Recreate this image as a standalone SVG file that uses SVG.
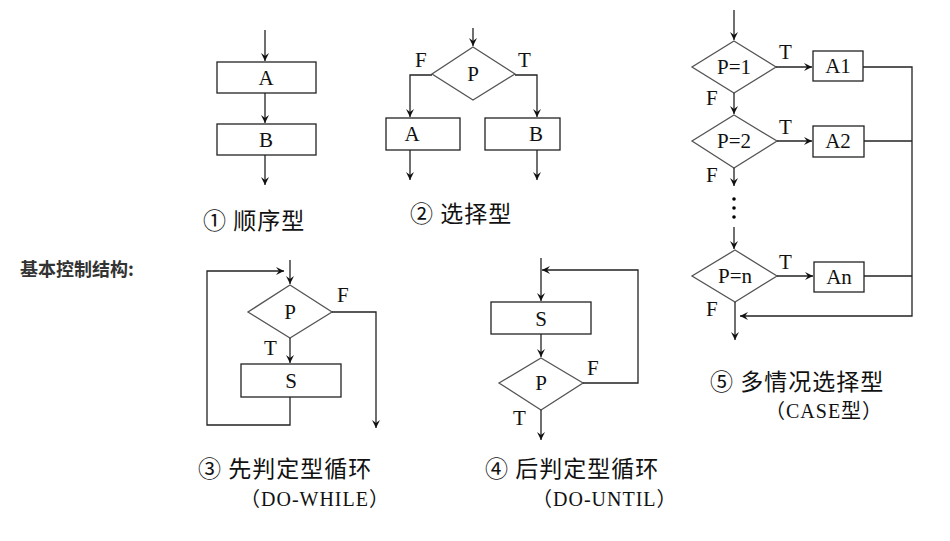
<svg xmlns="http://www.w3.org/2000/svg" width="950" height="541" viewBox="0 0 950 541">
<style>
.b{fill:#fff;stroke:#222;stroke-width:1.3}
.d{fill:#fff;stroke:#555;stroke-width:1.3}
.l{fill:none;stroke:#222;stroke-width:1.3}
.t{font-family:"Liberation Serif","DejaVu Serif",serif;font-size:21px;fill:#111}
.c{font-family:"Noto Sans CJK SC",sans-serif;font-size:23px;fill:#111;letter-spacing:1px}
.p{font-family:"Liberation Serif","DejaVu Serif","Noto Sans CJK SC",serif;font-size:20px;fill:#111;letter-spacing:1px}
.m{text-anchor:middle}
</style>
<defs><marker id="a" markerWidth="10" markerHeight="10" refX="8" refY="4" orient="auto" markerUnits="userSpaceOnUse"><path d="M0,0 L8,4 L0,8 L3,4 z" fill="#111"/></marker></defs>
<rect width="950" height="541" fill="#fff"/>
<text x="20" y="276" style="font-family:'Noto Sans CJK SC',sans-serif;font-size:18px;font-weight:bold;fill:#333">基本控制结构:</text>
<g id="seq"><rect class="b" x="217" y="62" width="99" height="31"/><text class="t m" x="266" y="85">A</text>
<rect class="b" x="217" y="124" width="99" height="31"/><text class="t m" x="266" y="147">B</text>
<text class="c" x="203" y="229">① 顺序型</text></g>
<g id="sel"><polygon class="d" points="473,47 515,74 473,100 432,74"/><text class="t m" x="473" y="81">P</text>
<rect class="b" x="386" y="118" width="74" height="32"/><text class="t m" x="412" y="141">A</text>
<rect class="b" x="485" y="118" width="75" height="32"/><text class="t m" x="536" y="141">B</text>
<text class="t" x="415" y="67">F</text><text class="t" x="518" y="67">T</text>
<text class="c" x="410" y="222">② 选择型</text></g>
<g id="while"><polygon class="d" points="290,285 332,312 290,338 248,312"/><text class="t m" x="290" y="319">P</text>
<rect class="b" x="241" y="364" width="100" height="33"/><text class="t m" x="291" y="388">S</text>
<text class="t" x="264" y="355">T</text><text class="t" x="337" y="302">F</text>
<text class="c" x="198" y="477">③ 先判定型循环</text><text class="p" x="240" y="506">（DO-WHILE）</text></g>
<g id="until"><rect class="b" x="491" y="302" width="100" height="32"/><text class="t m" x="541" y="326">S</text>
<polygon class="d" points="541,358 583,383 541,410 499,383"/><text class="t m" x="541" y="390">P</text>
<text class="t" x="513" y="425">T</text><text class="t" x="587" y="375">F</text>
<text class="c" x="485" y="477">④ 后判定型循环</text><text class="p" x="532" y="506">（DO-UNTIL）</text></g>
<g id="case"><polygon class="d" points="734,41 776,67 734,93 692,67"/><text class="t m" x="734" y="74">P=1</text>
<polygon class="d" points="734,115 777,141 734,168 692,141"/><text class="t m" x="734" y="148">P=2</text>
<polygon class="d" points="735,250 777,276 735,302 692,276"/><text class="t m" x="735" y="283">P=n</text>
<rect class="b" x="813" y="51" width="50" height="30"/><text class="t m" x="838" y="73">A1</text>
<rect class="b" x="813" y="126" width="51" height="31"/><text class="t m" x="838" y="148">A2</text>
<rect class="b" x="814" y="262" width="50" height="30"/><text class="t m" x="839" y="284">An</text>
<text class="t" x="779" y="59">T</text><text class="t" x="779" y="134">T</text><text class="t" x="779" y="269">T</text>
<text class="t" x="706" y="105">F</text><text class="t" x="706" y="182">F</text><text class="t" x="706" y="316">F</text>
<circle cx="734" cy="199" r="1.8"/><circle cx="734" cy="208" r="1.8"/><circle cx="734" cy="217" r="1.8"/>
<text class="c" x="710" y="390">⑤ 多情况选择型</text><text class="p" x="765" y="418">（CASE型）</text></g>
<g id="connectors">
<line class="l" x1="265" y1="30" x2="265" y2="61" marker-end="url(#a)"/>
<line class="l" x1="265" y1="93" x2="265" y2="123" marker-end="url(#a)"/>
<line class="l" x1="265" y1="155" x2="265" y2="185" marker-end="url(#a)"/>
<line class="l" x1="473" y1="28" x2="473" y2="46" marker-end="url(#a)"/>
<polyline class="l" points="432,75 410,75 410,117" marker-end="url(#a)"/>
<polyline class="l" points="515,75 537,75 537,117" marker-end="url(#a)"/>
<line class="l" x1="410" y1="150" x2="410" y2="180" marker-end="url(#a)"/>
<line class="l" x1="537" y1="150" x2="537" y2="180" marker-end="url(#a)"/>
<line class="l" x1="290" y1="260" x2="290" y2="284" marker-end="url(#a)"/>
<polyline class="l" points="290,397 290,425 207,425 207,271 284,271" marker-end="url(#a)"/>
<polyline class="l" points="332,312 376,312 376,428" marker-end="url(#a)"/>
<line class="l" x1="290" y1="338" x2="290" y2="363" marker-end="url(#a)"/>
<line class="l" x1="541" y1="258" x2="541" y2="301" marker-end="url(#a)"/>
<polyline class="l" points="583,383 638,383 638,270 542,270" marker-end="url(#a)"/>
<line class="l" x1="541" y1="334" x2="541" y2="357" marker-end="url(#a)"/>
<line class="l" x1="541" y1="410" x2="541" y2="440" marker-end="url(#a)"/>
<line class="l" x1="734" y1="10" x2="734" y2="40" marker-end="url(#a)"/>
<line class="l" x1="776" y1="67" x2="812" y2="67" marker-end="url(#a)"/>
<line class="l" x1="777" y1="141" x2="812" y2="141" marker-end="url(#a)"/>
<line class="l" x1="777" y1="276" x2="813" y2="276" marker-end="url(#a)"/>
<line class="l" x1="734" y1="93" x2="734" y2="114" marker-end="url(#a)"/>
<line class="l" x1="734" y1="168" x2="734" y2="186" marker-end="url(#a)"/>
<line class="l" x1="734" y1="227" x2="734" y2="249" marker-end="url(#a)"/>
<line class="l" x1="735" y1="302" x2="735" y2="340" marker-end="url(#a)"/>
<polyline class="l" points="863,67 912,67 912,316 740,316" marker-end="url(#a)"/>
<line class="l" x1="864" y1="141" x2="912" y2="141"/>
<line class="l" x1="864" y1="276" x2="912" y2="276"/>
</g>
</svg>
